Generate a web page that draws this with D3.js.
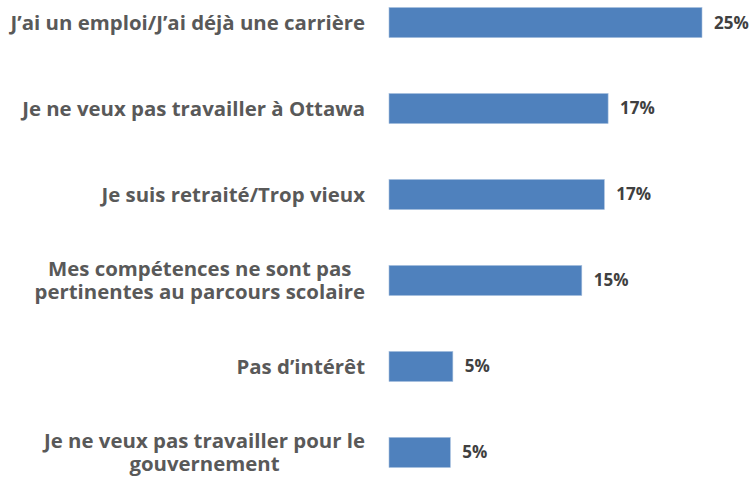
<!DOCTYPE html>
<html>
<head>
<meta charset="utf-8">
<script src="https://cdn.jsdelivr.net/npm/d3@7"></script>
<style>
  body { margin: 0; background: #fff; }
  svg { display: block; }
</style>
</head>
<body>
<div id="chart"></div>
<script>
// Data
const categories = [
    ["J\u2019ai un emploi/J\u2019ai déjà une carrière"],
    ["Je ne veux pas travailler à Ottawa"],
    ["Je suis retraité/Trop vieux"],
    ["Mes compétences ne sont pas ", "pertinentes au parcours scolaire"],
    ["Pas d\u2019intérêt"],
    ["Je ne veux pas travailler pour le", "gouvernement"]
];
const values = [25.0, 17.5, 17.2, 15.4, 5.1, 4.9];
const valueLabels = ["25%", "17%", "17%", "15%", "5%", "5%"];

const W = 749, H = 478;
const fontFamily = "'Open Sans', Lato, sans-serif";

const svg = d3.select("#chart")
              .append("svg")
              .attr("width", W)
              .attr("height", H);

// Scales
const xScale = d3.scaleLinear()
                 .domain([0, 25])
                 .range([389, 702]);

const yScale = d3.scaleBand()
                 .domain(d3.range(values.length))
                 .range([-20, 495])
                 .paddingInner(0.65)
                 .paddingOuter(0.32);

// Bars
svg.selectAll(".bar")
   .data(values)
   .enter()
   .append("rect")
   .attr("class", "bar")
   .attr("x", xScale(0))
   .attr("y", (d, i) => yScale(i))
   .attr("width", d => xScale(d) - xScale(0))
   .attr("height", yScale.bandwidth())
   .attr("fill", "#4f81bd")
   .attr("stroke", "#a7c0de")
   .attr("stroke-width", 0.6);

// Value labels
svg.selectAll(".val")
   .data(values)
   .enter()
   .append("text")
   .attr("x", d => xScale(d) + 12)
   .attr("y", (d, i) => yScale(i) + yScale.bandwidth() / 2)
   .attr("dy", "0.35em")
   .style("font-family", fontFamily)
   .style("font-weight", "bold")
   .style("font-size", "17px")
   .style("fill", "#404040")
   .text((d, i) => valueLabels[i]);

// Category labels (wrapped lines centred within a right-aligned block)
const labelRight = 365, lineH = 23.5;
categories.forEach(function(lines, i) {
    const cy = yScale(i) + yScale.bandwidth() / 2;
    const g = svg.append("g");
    const texts = lines.map((s, k) => g.append("text")
        .attr("y", cy + (k - (lines.length - 1) / 2) * lineH)
        .attr("dy", "0.35em")
        .attr("text-anchor", "middle")
        .style("font-family", fontFamily)
        .style("font-weight", "bold")
        .style("font-size", "20.4px")
        .style("fill", "#595959")
        .text(s));
    const maxW = d3.max(texts, t => t.node().getComputedTextLength());
    texts.forEach(t => t.attr("x", labelRight - maxW / 2));
});
</script>
</body>
</html>
